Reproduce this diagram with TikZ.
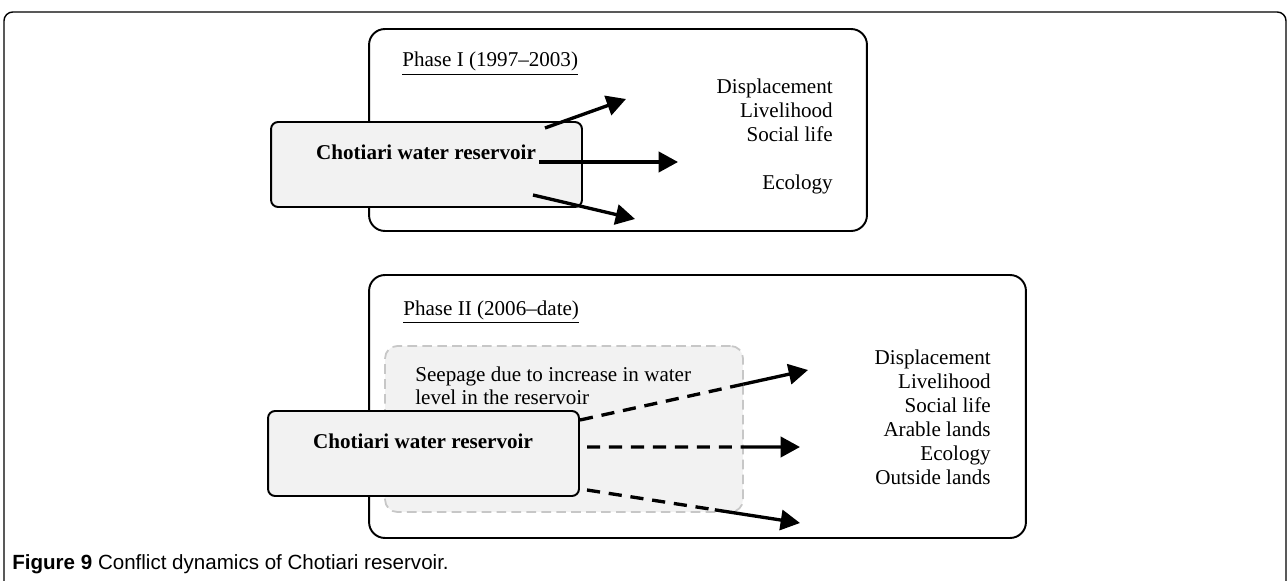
\documentclass[tikz,border=0pt]{standalone}
\usepackage{fontspec}
\setmainfont{Liberation Serif}
\newfontfamily\capfont{Liberation Sans}
\usetikzlibrary{arrows.meta,calc}

\begin{document}
\begin{tikzpicture}[x=0.02cm,y=-0.02cm,
	font=\fontsize{12}{13.6}\selectfont,
	txt/.style={inner sep=0pt},
	phasebox/.style={draw,line width=1.1pt,rounded corners=9pt,inner sep=0pt},
	resbox/.style={draw,line width=1.1pt,fill=black!5,rounded corners=4pt,inner sep=0pt},
	seepbox/.style={draw=black!22,fill=black!5,line width=1pt,dash pattern=on 5.5pt off 3pt,rounded corners=7pt,inner sep=0pt},
	impact/.style={line width=1.9pt,-{Triangle[length=11pt,width=11.5pt]}},
	seepline/.style={line width=1.9pt,dash pattern=on 7.5pt off 5pt}]
	\useasboundingbox (0,0) rectangle (1287,581);
	% frame of the figure
	\draw[line width=0.8pt,rounded corners=5pt] (4,640) -- (4,12) -- (1286,12) -- (1286,640);
	
	% phase I
	\node[phasebox,minimum width=9.96cm,minimum height=4.04cm] (ph1) at (618,130) {};
	\node[txt,anchor=base west] (ph1t) at (402,67) {\underline{Phase I (1997--2003)}};
	\node[resbox,minimum width=6.22cm,minimum height=1.7cm] (res1) at (426.5,164.5) {};
	\node[txt,font=\fontsize{12}{13.6}\selectfont\bfseries] (res1t) at (426,152) {Chotiari water reservoir};
	\node[txt,anchor=north east,align=right] (eff1) at (833,79)
		{Displacement\\Livelihood\\Social life\\[13.4pt]Ecology};
	\coordinate (s1) at (545,128); \coordinate (t1) at (626,99);
	\coordinate (s2) at (539,162); \coordinate (t2) at (678,162);
	\coordinate (s3) at (533,195); \coordinate (t3) at (635,219);
	\foreach \X in {1,2,3}
		\draw[impact] (s\X) -- (t\X);
	
	% phase II
	\node[phasebox,minimum width=13.14cm,minimum height=5.26cm] (ph2) at (697.5,406.5) {};
	\node[txt,anchor=base west] (ph2t) at (403,315) {\underline{Phase II (2006--date)}};
	\node[seepbox,minimum width=7.16cm,minimum height=3.32cm] (seep) at (564,429) {};
	\node[txt,anchor=north west,align=left,font=\fontsize{12}{12.6}\selectfont] (seept) at (415,367)
		{Seepage due to increase in water\\level in the reservoir};
	\node[resbox,minimum width=6.22cm,minimum height=1.7cm] (res2) at (423.5,453.5) {};
	\node[txt,font=\fontsize{12}{13.6}\selectfont\bfseries] (res2t) at (423,441) {Chotiari water reservoir};
	\node[txt,anchor=north east,align=right] (eff2) at (991,350)
		{Displacement\\Livelihood\\Social life\\Arable lands\\Ecology\\Outside lands};
	\coordinate (u1) at (580,420); \coordinate (v1) at (808,370);
	\coordinate (u2) at (587,447); \coordinate (v2) at (800,447);
	\coordinate (u3) at (587,490); \coordinate (v3) at (800,523);
	% dashed inside the seepage area, solid beyond it
	\foreach \X/\p in {1/0.716,2/0.732,3/0.6}
	{\coordinate (w\X) at ($(u\X)!\p!(v\X)$);
		\draw[seepline] (u\X) -- (w\X);
		\draw[impact] (w\X) -- (v\X);}
	
	\node[txt,anchor=base west,font=\capfont\fontsize{11.7}{14}\selectfont] (cap) at (12,569)
		{\textbf{Figure 9} Conflict dynamics of Chotiari reservoir.};
\end{tikzpicture}
\end{document}
